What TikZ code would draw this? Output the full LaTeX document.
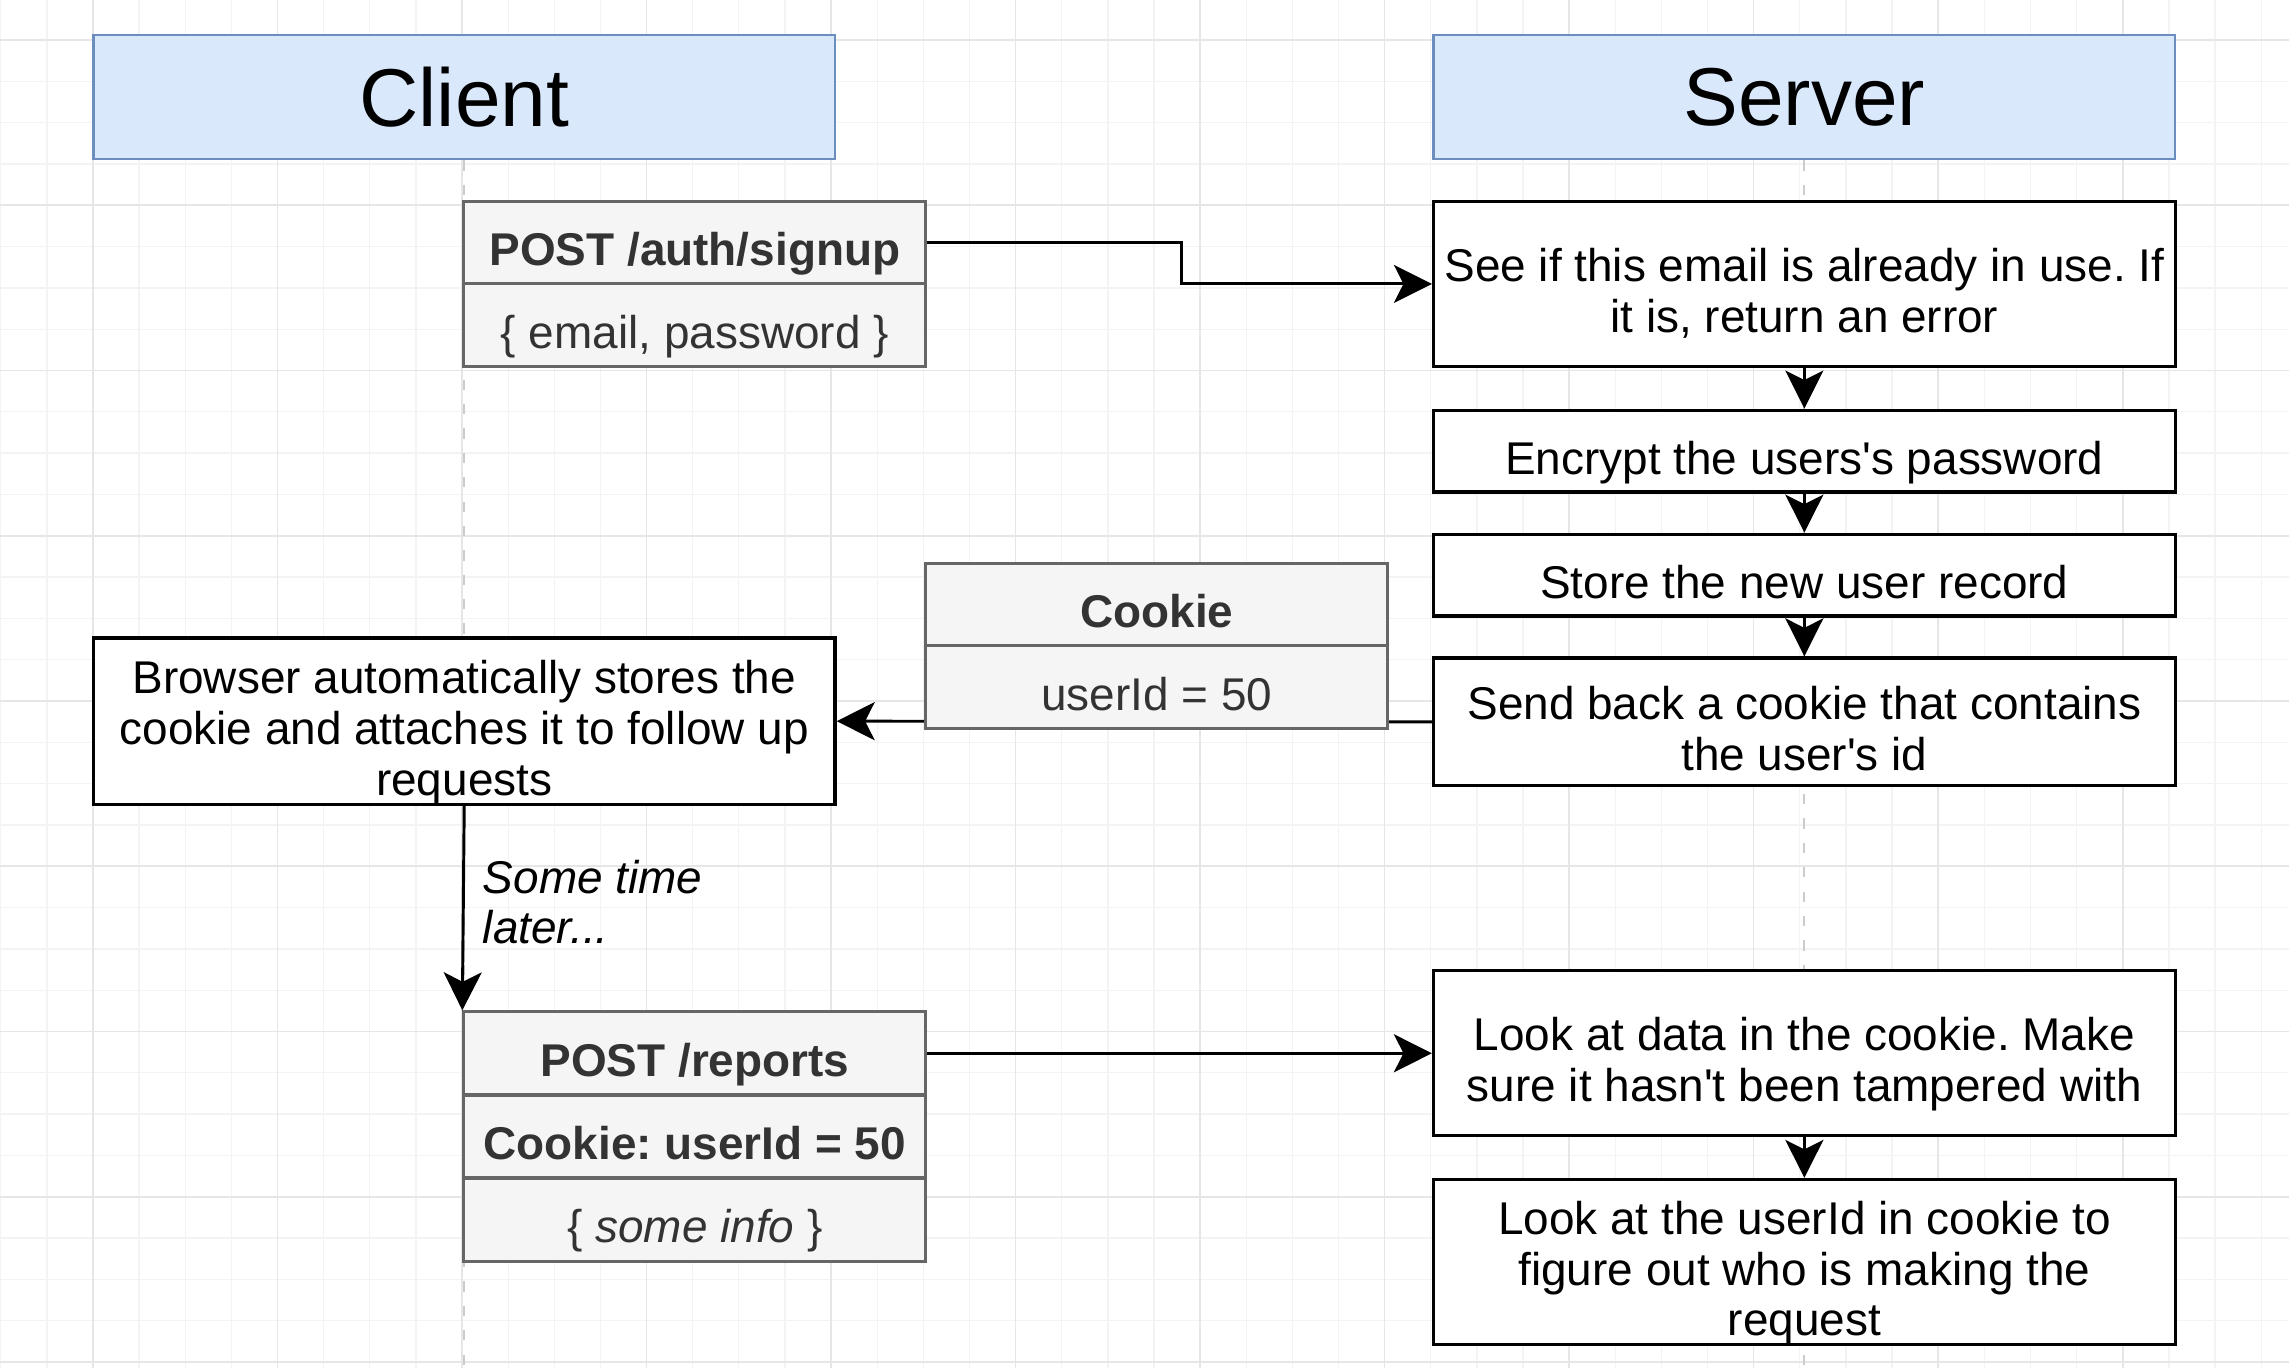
\documentclass[tikz,border=0pt]{standalone}
\usepackage{fontspec}
\setmainfont{Liberation Sans}
\usetikzlibrary{arrows.meta}
\definecolor{hdrfill}{HTML}{DAE8FC}\definecolor{hdrline}{HTML}{6C8EBF}
\definecolor{rowfill}{HTML}{F5F5F5}\definecolor{rowline}{HTML}{666666}\definecolor{rowtext}{HTML}{333333}
\definecolor{lifeline}{HTML}{CCCCCC}\definecolor{gridminor}{HTML}{F3F3F3}\definecolor{gridmajor}{HTML}{E6E6E6}
\newcommand{\bodyfont}{\fontsize{17.9}{19.8}\selectfont\frenchspacing}
\newcommand{\q}{\textquotesingle}
\newcommand{\up}{\rule{0pt}{23pt}}

\begin{document}
\begin{tikzpicture}[hdr/.style={draw=hdrline,fill=hdrfill,line width=1pt,minimum width=10.16cm,minimum height=1.7cm,font=\fontsize{32}{38}\selectfont},
strutted/.style={execute at begin node=\up,execute at end node=\rule[-5pt]{0pt}{0pt}},
stepbox/.style={draw,fill=white,line width=1.3pt,minimum width=10.16cm,inner sep=1pt,align=center,font=\bodyfont,strutted},
threeline/.style={inner ysep=-2pt},
msgrow/.style={draw=rowline,fill=rowfill,text=rowtext,line width=1.2pt,minimum width=6.33cm,minimum height=1.135cm,inner sep=1pt,font=\bodyfont,strutted},
arr/.style={-{Stealth[length=.52cm,width=.52cm,inset=.13cm]},line width=1.15pt},
life/.style={draw=lifeline,line width=.8pt,dash pattern=on 4pt off 5.5pt}]
\useasboundingbox(0,0)rectangle(31.36,-18.74);
\draw[gridminor,line width=.5pt,xstep=.632,ystep=.566,shift={(.01,-.548)}](-.01,-18.2)grid(31.35,.548);
\draw[gridmajor,line width=.6pt,xstep=2.528,ystep=2.264,shift={(1.274,-.548)}](-1.274,-18.2)grid(30.09,.548);
\coordinate(bot)at(0,-18.74);
\node[hdr](cl)at(6.36,-1.33){Client};\node[hdr](sv)at(24.72,-1.33){Server};
\draw[life](cl.south)--(cl.south|-bot);\draw[life](sv.south)--(sv.south|-bot);
\node[msgrow](su)at(9.52,-3.325){\bfseries POST /auth/signup};\node[msgrow](sub)at(9.52,-4.455){\{ email, password \}};
\node[stepbox,minimum height=2.26cm](s1)at(24.72,-3.89){\up See if this email is already in use. If\\it is, return an error};
\node[stepbox,minimum height=1.12cm](s2)at(24.72,-6.18){Encrypt the users\q s password};
\node[stepbox,minimum height=1.12cm](s3)at(24.72,-7.88){Store the new user record};
\node[stepbox,minimum height=1.7cm](s4)at(24.72,-9.89){\up Send back a cookie that contains\\the user\q s id};
\node[stepbox,threeline,minimum height=2.28cm](br)at(6.36,-9.88){\up Browser automatically stores the\\cookie and attaches it to follow up\\requests};
\draw[arr](su.east)--++(3.48,0)|-(s1.west);\draw[arr](s1)--(s2);\draw[arr](s2)--(s3);\draw[arr](s3)--(s4);
\draw[arr](s4.west)--(br.east);
\node[msgrow](ck)at(15.85,-8.285){\bfseries Cookie};\node[msgrow](ckv)at(15.85,-9.415){userId = 50};
\node[msgrow](rp)at(9.52,-14.43){\bfseries POST /reports};\node[msgrow](rpc)at(9.52,-15.57){\bfseries Cookie: userId = 50};\node[msgrow](rpb)at(9.52,-16.71){\{ \textit{some info} \}};
\node[stepbox,minimum height=2.26cm](s5)at(24.72,-14.43){\up Look at data in the cookie. Make\\sure it hasn\q t been tampered with};
\node[stepbox,threeline,minimum height=2.26cm](s6)at(24.72,-17.29){\up Look at the userId in cookie to\\figure out who is making the\\request};
\draw[arr](br.south)--node[pos=.47,right=.13cm,align=left,font=\bodyfont\itshape]{Some time\\later...}(rp.north west);
\draw[arr](rp.east)--(s5.west);\draw[arr](s5)--(s6);
\end{tikzpicture}
\end{document}
